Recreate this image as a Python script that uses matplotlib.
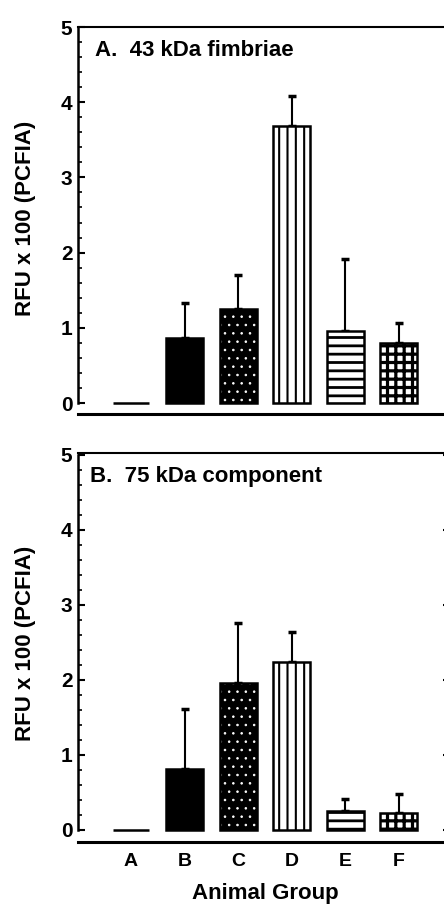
import numpy as np
import matplotlib
matplotlib.use("Agg")
import matplotlib.pyplot as plt

plt.rcParams['font.family'] = ['Liberation Sans', 'DejaVu Sans']
plt.rcParams['font.weight'] = 'bold'
plt.rcParams['hatch.linewidth'] = 1.6

# data
groups = ['A', 'B', 'C', 'D', 'E', 'F']
fimbriae_mean = [0.0, 0.86, 1.25, 3.68, 0.96, 0.80]
fimbriae_err = [0.0, 0.47, 0.45, 0.40, 0.96, 0.26]
component_mean = [0.0, 0.81, 1.96, 2.24, 0.25, 0.23]
component_err = [0.0, 0.80, 0.80, 0.39, 0.16, 0.25]
panel_titles = ['A.  43 kDa fimbriae', 'B.  75 kDa component']

# fill / hatch for each animal group
faces = ['white', 'black', 'black', 'white', 'white', 'white']
hatches = [None, None, '..', '||', '--', '++']
hatch_colors = ['black', 'black', 'white', 'black', 'black', 'black']
hatch_lw = [1.0, 1.0, 0.6, 1.5, 2.0, 2.3]

W, H = 444, 905
fig = plt.figure(figsize=(W / 100, H / 100), dpi=100)

# axes boxes in pixels: left, top, bottom, right
boxes = [(78, 27, 414, 447), (78, 453, 842, 447)]
ylims = [(-0.146, 5.0), (-0.16, 5.02)]
means = [fimbriae_mean, component_mean]
errs = [fimbriae_err, component_err]

x = np.arange(len(groups))
width = 0.69

for i in range(2):
    l, t, b, r = boxes[i]
    ax = fig.add_axes([l / W, 1 - b / H, (r - l) / W, (b - t) / H])
    m = np.array(means[i])
    e = np.array(errs[i])

    # hatched fills
    for j in range(len(groups)):
        bar = ax.bar(x[j], m[j], width, color=faces[j], edgecolor=hatch_colors[j],
                     linewidth=0, hatch=hatches[j], zorder=2)
        for p in bar:
            if hasattr(p, 'set_hatch_linewidth'):
                p.set_hatch_linewidth(hatch_lw[j])
    # outlines
    ax.bar(x, m, width, facecolor='none', edgecolor='black', linewidth=1.8, zorder=3)

    # upper error bars only
    keep = e > 0
    ax.errorbar(x[keep], m[keep], yerr=[np.zeros(keep.sum()), e[keep]], fmt='none',
                ecolor='black', elinewidth=1.5, capsize=3, capthick=2.5, zorder=1)

    ax.set_xlim(-0.989, 5.896)
    ax.set_ylim(*ylims[i])

    ax.spines['left'].set_bounds(0, 5)
    ax.spines['left'].set_linewidth(1.8)
    ax.spines['top'].set_linewidth(1.5)
    ax.spines['bottom'].set_linewidth(2.2)
    ax.spines['right'].set_visible(False)

    ax.set_yticks(range(6))
    ax.set_yticks(np.arange(0, 5.01, 0.2), minor=True)
    ax.tick_params(axis='y', which='major', direction='in', length=5, width=1.5,
                   labelsize=15, pad=4)
    ax.tick_params(axis='y', which='minor', direction='in', length=3, width=1.2)
    if i == 1:
        # lower panel shows stubs of right-hand ticks at the edge
        ax.tick_params(axis='y', which='major', right=True)
        for tk in ax.yaxis.get_major_ticks():
            tk.tick2line.set_markersize(3)
    for lab in ax.get_yticklabels():
        lab.set_fontweight('bold')

    ax.set_ylabel('RFU x 100 (PCFIA)', fontsize=16, fontweight='bold')
    ax.yaxis.set_label_coords(-0.115, 0.505 if i == 0 else 0.51)

    ax.text(0.046 if i == 0 else 0.033, 0.94, panel_titles[i], transform=ax.transAxes,
            ha='left', va='center', fontsize=16, fontweight='bold')

    if i == 0:
        ax.set_xticks([])
    else:
        ax.set_xticks(x)
        ax.set_xticklabels(groups, fontsize=14, fontweight='bold')
        ax.tick_params(axis='x', length=0, pad=8)
        ax.set_xlabel('Animal Group', fontsize=16, fontweight='bold')
        ax.xaxis.set_label_coords(0.507, -0.105)
        ax.xaxis.label.set_va('top')

fig.savefig('out.png', dpi=100)
